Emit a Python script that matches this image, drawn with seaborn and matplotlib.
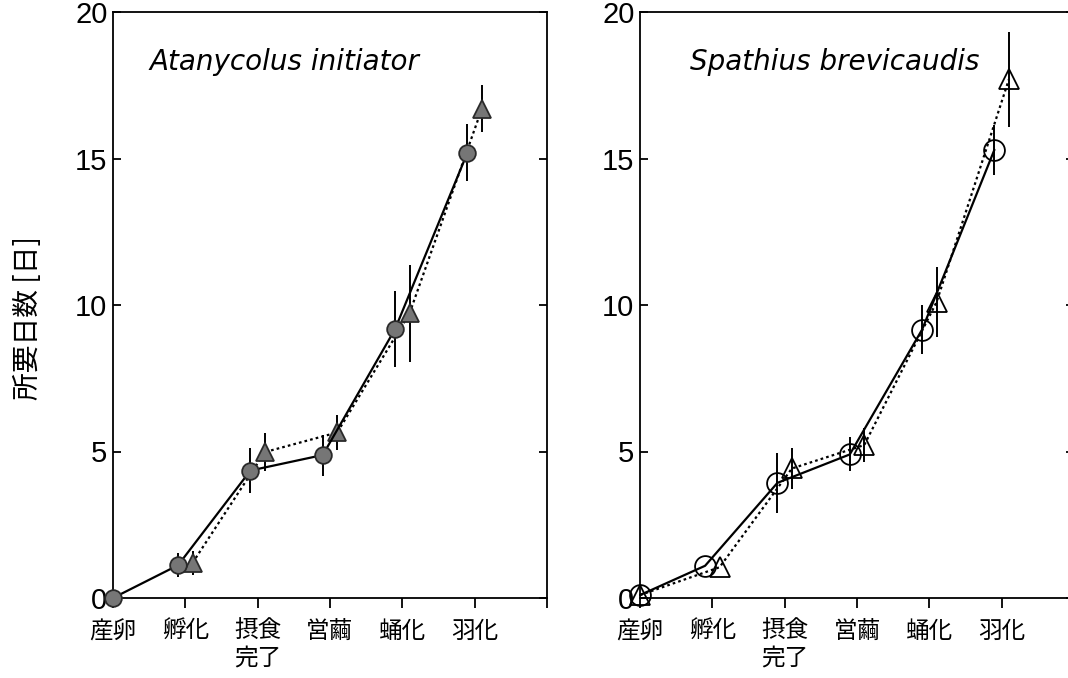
import numpy as np
import pandas as pd
import matplotlib
matplotlib.use("Agg")
import matplotlib.pyplot as plt
import seaborn as sns

# ---------------- data ----------------
stages = ["産卵", "孵化", "摂食\n完了", "営繭", "蛹化", "羽化"]

# Atanycolus initiator (triangle at 産卵 is hidden under the circle)
a_circle = [0.0, 1.12, 4.35, 4.88, 9.18, 15.2]
a_circle_err = [0.0, 0.4, 0.78, 0.7, 1.3, 0.97]
a_tri = [np.nan, 1.2, 4.98, 5.65, 9.72, 16.7]
a_tri_err = [0.0, 0.4, 0.65, 0.6, 1.65, 0.8]

# Spathius brevicaudis
s_circle = [0.1, 1.1, 3.93, 4.9, 9.16, 15.3]
s_circle_err = [0.0, 0.0, 1.03, 0.58, 0.83, 0.85]
s_tri = [0.1, 1.05, 4.42, 5.22, 10.1, 17.7]
s_tri_err = [0.0, 0.0, 0.7, 0.58, 1.2, 1.63]

titles = ["Atanycolus initiator", "Spathius brevicaudis"]
yticks = [0, 5, 10, 15, 20]

# ---------------- style ----------------
sns.set_theme(style="white")
plt.rcParams["font.family"] = ["Noto Sans CJK JP", "DejaVu Sans"]

W, H = 1068, 678
fig = plt.figure(figsize=(W / 100, H / 100), dpi=100)

def fx(px):
    return px / W

def fy(py):
    return 1 - py / H

ax_w = 434 / W
ax_b = fy(598)
ax_h = (598 - 12) / H
axL = fig.add_axes([fx(113), ax_b, ax_w, ax_h])
axR = fig.add_axes([fx(640), ax_b, ax_w, ax_h])

gray = "#767676"
edge = "#2a2a2a"

idx = np.arange(len(stages))
off_c = np.array([0.0] + [-0.1] * 5)
off_t = np.array([0.0] + [0.1] * 5)

def panel(ax, circ, circ_err, tri, tri_err, filled, title):
    xc = idx + off_c
    xt = idx + off_t
    dfc = pd.DataFrame({"x": xc, "y": circ})
    dft = pd.DataFrame({"x": xt, "y": tri}).dropna()
    tri_arr = np.array(tri, dtype=float)
    ax.errorbar(xc, circ, yerr=circ_err, fmt="none", ecolor="black",
                elinewidth=1.4, capsize=0, zorder=2, clip_on=False)
    ax.errorbar(xt, tri_arr, yerr=tri_err, fmt="none", ecolor="black",
                elinewidth=1.4, capsize=0, zorder=2, clip_on=False)
    if filled:
        fc = gray
        ec = edge
    else:
        fc = "none"
        ec = "black"
    sns.lineplot(data=dft, x="x", y="y", ax=ax, color="black",
                 linestyle=(0, (1.2, 1.4)), linewidth=1.6,
                 marker="^", markersize=13 if filled else 15,
                 markerfacecolor=fc, markeredgecolor=ec, markeredgewidth=1.3,
                 zorder=3, clip_on=False)
    sns.lineplot(data=dfc, x="x", y="y", ax=ax, color="black",
                 linestyle="-", linewidth=1.6,
                 marker="o", markersize=12 if filled else 15,
                 markerfacecolor=fc, markeredgecolor=ec, markeredgewidth=1.3,
                 zorder=4, clip_on=False)
    ax.set_xlim(0, 6)
    ax.set_ylim(0, 20)
    ax.set_xticks(np.arange(7))
    ax.set_xticklabels(stages + [""], fontsize=17, linespacing=1.2)
    ax.set_yticks(yticks)
    ax.set_yticklabels([str(v) for v in yticks], fontsize=21,
                       family=["Liberation Sans", "DejaVu Sans"])
    ax.tick_params(axis="x", direction="out", length=7, width=1.3,
                   bottom=True, top=False, pad=9, colors="black")
    ax.tick_params(axis="y", direction="in", length=6, width=1.3,
                   left=True, right=True, labelleft=True, labelright=False,
                   pad=4, colors="black")
    for s in ax.spines.values():
        s.set_visible(True)
        s.set_color("black")
        s.set_linewidth(1.3)
    ax.set_xlabel("")
    ax.set_ylabel("")
    ax.text(0.5 if filled else 0.69, 18.3, title, fontsize=20, style="italic",
            family=["DejaVu Sans"], ha="left", va="center",
            color="black")
    ax.set_facecolor("white")

panel(axL, a_circle, a_circle_err, a_tri, a_tri_err, True, titles[0])
panel(axR, s_circle, s_circle_err, s_tri, s_tri_err, False, titles[1])

fig.text(fx(28), fy(318), "所要日数 [日]", rotation=90, fontsize=20,
         ha="center", va="center", color="black")

fig.savefig("out.png", dpi=100, facecolor="white")
